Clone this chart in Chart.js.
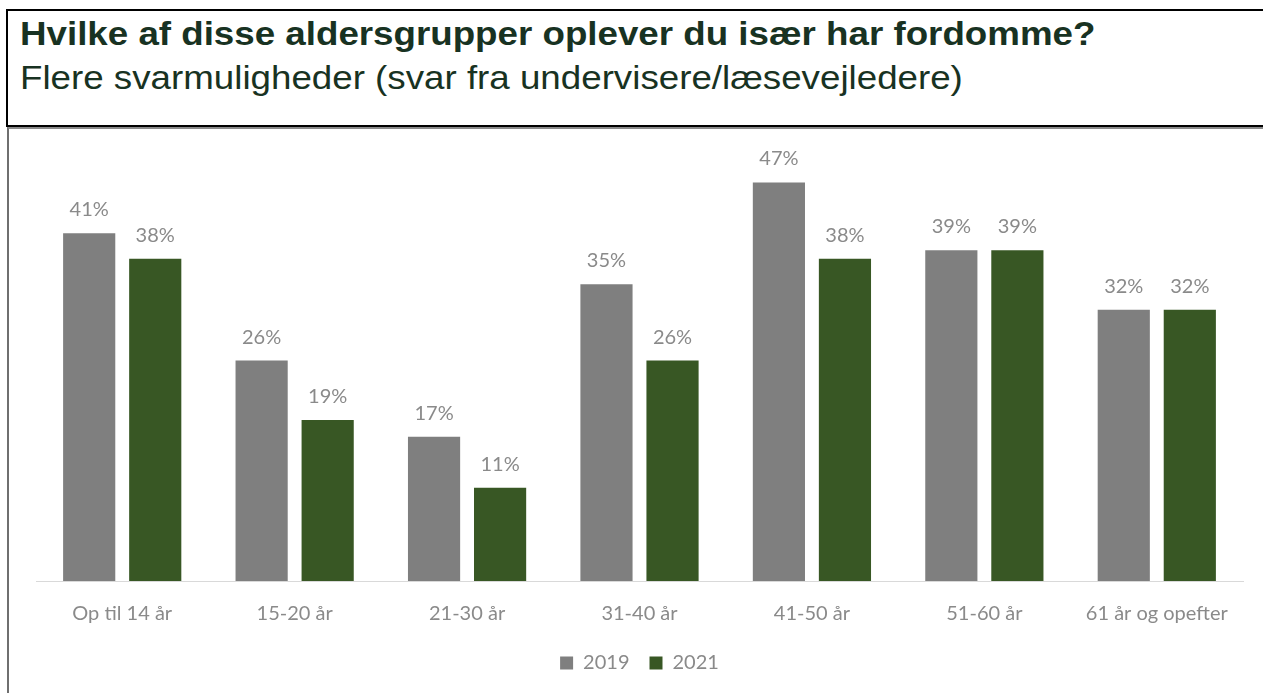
<!DOCTYPE html>
<html>
<head>
<meta charset="utf-8">
<script src="https://cdn.jsdelivr.net/npm/chart.js@4/dist/chart.umd.min.js"></script>
<style>
  html, body { margin: 0; padding: 0; width: 1263px; height: 693px; overflow: hidden; background: #fff; }
  #titleBox { position: absolute; left: 6px; top: 9px; width: 1280px; height: 114px; border: 2px solid #000; }
  #titleText { position: absolute; left: 20px; top: 11px; transform: scaleX(1.08); transform-origin: left top;
    font-family: "Liberation Sans", Arial, sans-serif; font-size: 34px; line-height: 44px; color: #183222; white-space: nowrap; }
  #titleText b { font-weight: bold; }
  #chartBox { position: absolute; left: 7px; top: 127px; width: 1280px; height: 600px;
    border-top: 2px solid #8a8a8a; border-left: 2px solid #6f6f6f; }
  #chartWrap { position: absolute; left: 0; top: 0; }
</style>
</head>
<body>
<div id="titleBox"></div>
<div id="titleText"><b>Hvilke af disse aldersgrupper oplever du især har fordomme?</b><br>Flere svarmuligheder (svar fra undervisere/læsevejledere)</div>
<div id="chartBox"></div>
<div id="chartWrap"><canvas id="chart" width="1263" height="683"></canvas></div>
<script>
// Data
const categories = ['Op til 14 år', '15-20 år', '21-30 år', '31-40 år', '41-50 år', '51-60 år', '61 år og opefter'];
const values2019 = [41, 26, 17, 35, 47, 39, 32];
const values2021 = [38, 19, 11, 26, 38, 39, 32];
const seriesNames = ['2019', '2021'];

const labelColor = '#8a8a8a';
const labelFont = { family: 'Lato, "Open Sans", sans-serif', size: 20 };

// procent-etiketter over søjlerne
const valueLabels = {
    id: 'valueLabels',
    afterDatasetsDraw(chart) {
        const ctx = chart.ctx;
        ctx.save();
        ctx.font = `${labelFont.size}px ${labelFont.family}`;
        ctx.fillStyle = labelColor;
        ctx.textAlign = 'center';
        ctx.textBaseline = 'alphabetic';
        chart.data.datasets.forEach((ds, i) => {
            const meta = chart.getDatasetMeta(i);
            meta.data.forEach((bar, j) => {
                ctx.fillText(ds.data[j] + '%', bar.x, bar.y - 17);
            });
        });
        ctx.restore();
    }
};

const ctx = document.getElementById('chart').getContext('2d');
new Chart(ctx, {
    type: 'bar',
    data: {
        labels: categories,
        datasets: [{
            label: seriesNames[0],
            data: values2019,
            backgroundColor: '#7f7f7f',
            borderWidth: 0
        }, {
            label: seriesNames[1],
            data: values2021,
            backgroundColor: '#385724',
            borderWidth: 0
        }]
    },
    options: {
        responsive: false,
        animation: false,
        categoryPercentage: 0.766,
        barPercentage: 0.79,
        layout: { padding: { left: 36, right: 20, top: 157, bottom: 0 } },
        plugins: {
            legend: {
                position: 'bottom',
                labels: {
                    boxWidth: 13,
                    boxHeight: 13,
                    padding: 20,
                    color: labelColor,
                    font: labelFont
                }
            },
            tooltip: { enabled: false }
        },
        scales: {
            y: { display: false, min: 0, max: 50 },
            x: {
                grid: { display: false },
                border: { display: true, color: '#d9d9d9', width: 1 },
                ticks: { color: labelColor, font: labelFont, padding: 13, maxRotation: 0 },
                afterFit: function(scale) { scale.height = 52; }
            }
        }
    },
    plugins: [valueLabels]
});
</script>
</body>
</html>
